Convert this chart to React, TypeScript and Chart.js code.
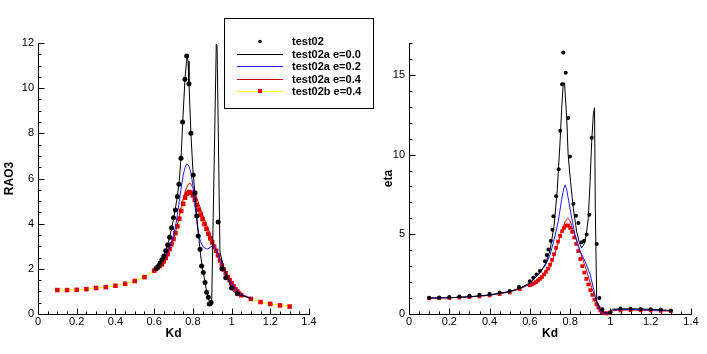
import React, { useEffect, useRef } from "react";
import { Chart, registerables } from "chart.js";

Chart.register(...registerables);

const FONT = "'Liberation Sans', Arial, Helvetica, sans-serif";

// ---------- tick labels ----------
const X_TICKS = [0, 0.2, 0.4, 0.6, 0.8, 1, 1.2, 1.4];
const L_Y_TICKS = [0, 2, 4, 6, 8, 10, 12];
const R_Y_TICKS = [0, 5, 10, 15];

const SERIES_NAMES = ["test02", "test02a e=0.0", "test02a e=0.2", "test02a e=0.4", "test02b e=0.4"];

// ---------- left chart (RAO3) ----------
const L_T02_X = [0.61, 0.62, 0.63, 0.64, 0.65, 0.66, 0.67, 0.68, 0.69, 0.7, 0.71, 0.72, 0.728, 0.739, 0.747, 0.759, 0.768, 0.78, 0.79, 0.802, 0.811, 0.82, 0.828, 0.837, 0.845, 0.854, 0.863, 0.871, 0.88, 0.885, 0.894, 0.931, 0.95, 0.97, 1.0, 1.03];
const L_T02_Y = [2.0, 2.1, 2.25, 2.4, 2.57, 2.8, 3.05, 3.4, 3.82, 4.26, 4.6, 5.2, 5.75, 6.9, 8.5, 10.4, 11.42, 10.2, 8.0, 6.15, 5.37, 4.34, 3.45, 2.87, 2.13, 1.84, 1.4, 0.96, 0.74, 0.44, 0.51, 4.07, 2.0, 1.6, 1.15, 0.9];

const L_E0_X = [0.6, 0.62, 0.64, 0.66, 0.68, 0.7, 0.72, 0.73, 0.74, 0.75, 0.76, 0.77, 0.775, 0.78, 0.79, 0.8, 0.81, 0.82, 0.83, 0.84, 0.85, 0.86, 0.87, 0.88, 0.89, 0.897, 0.921, 0.925, 0.94, 0.957, 0.983, 1.0, 1.026, 1.06, 1.1];
const L_E0_Y = [1.95, 2.1, 2.4, 2.8, 3.4, 4.2, 5.2, 5.9, 7.1, 8.9, 10.5, 11.4, 11.2, 10.2, 8.0, 6.4, 5.4, 4.35, 3.45, 2.6, 2.0, 1.55, 1.05, 0.7, 0.45, 0.37, 11.95, 11.9, 2.75, 2.13, 1.54, 1.1, 0.88, 0.8, 0.68];

const L_E2_X = [0.6, 0.62, 0.64, 0.66, 0.68, 0.7, 0.71, 0.72, 0.73, 0.74, 0.75, 0.76, 0.77, 0.78, 0.79, 0.8, 0.81, 0.82, 0.83, 0.84, 0.855, 0.875, 0.89, 0.905, 0.92, 0.94, 0.96, 0.98, 1.0, 1.02, 1.05, 1.1];
const L_E2_Y = [1.95, 2.1, 2.3, 2.55, 2.95, 3.5, 3.85, 4.4, 5.0, 5.6, 6.15, 6.5, 6.65, 6.55, 6.25, 5.7, 4.9, 4.1, 3.5, 3.2, 2.95, 2.87, 2.95, 3.05, 2.88, 2.45, 1.95, 1.6, 1.35, 1.1, 0.85, 0.68];

const L_E4_X = [0.6, 0.62, 0.64, 0.66, 0.68, 0.7, 0.72, 0.74, 0.76, 0.77, 0.78, 0.785, 0.79, 0.8, 0.81, 0.82, 0.83, 0.84, 0.86, 0.88, 0.9, 0.92, 0.94, 0.96, 0.98, 1.0, 1.02, 1.05, 1.1];
const L_E4_Y = [1.95, 2.1, 2.28, 2.52, 2.88, 3.3, 3.95, 4.75, 5.4, 5.65, 5.78, 5.8, 5.75, 5.6, 5.4, 5.15, 4.9, 4.65, 4.2, 3.75, 3.3, 2.8, 2.35, 1.95, 1.62, 1.35, 1.12, 0.88, 0.7];

const L_T02B_X = [0.1, 0.15, 0.2, 0.25, 0.3, 0.35, 0.4, 0.45, 0.5, 0.55,
  0.6, 0.61, 0.62, 0.63, 0.64, 0.65, 0.66, 0.67, 0.68, 0.69,
  0.7, 0.71, 0.72, 0.73, 0.74, 0.75, 0.76, 0.77, 0.78, 0.79,
  0.8, 0.81, 0.82, 0.83, 0.84, 0.85, 0.86, 0.87, 0.88, 0.89,
  0.9, 0.91, 0.92, 0.93, 0.94, 0.95, 0.96, 0.97, 0.98, 0.99,
  1.0, 1.01, 1.02, 1.03, 1.04, 1.05, 1.1, 1.15, 1.2, 1.25, 1.3];
const L_T02B_Y = [1.06, 1.06, 1.07, 1.1, 1.15, 1.19, 1.25, 1.34, 1.46, 1.63,
  1.92, 2.0, 2.06, 2.13, 2.2, 2.33, 2.48, 2.65, 2.87, 3.09,
  3.32, 3.58, 3.88, 4.22, 4.56, 4.88, 5.15, 5.33, 5.4, 5.38,
  5.25, 5.05, 4.83, 4.62, 4.4, 4.2, 3.98, 3.77, 3.55, 3.35,
  3.17, 2.98, 2.8, 2.6, 2.37, 2.15, 1.97, 1.8, 1.64, 1.5,
  1.36, 1.22, 1.1, 1.0, 0.9, 0.83, 0.67, 0.53, 0.45, 0.38, 0.33];

// ---------- right chart (eta) ----------
const R_T02_X = [0.1, 0.15, 0.2, 0.25, 0.3, 0.35, 0.4, 0.45, 0.5, 0.546, 0.6, 0.617, 0.633, 0.65, 0.675, 0.684, 0.692, 0.704, 0.712, 0.717, 0.73, 0.743, 0.751, 0.76, 0.766, 0.778, 0.79, 0.799, 0.816, 0.829, 0.841, 0.857, 0.87, 0.882, 0.895, 0.907, 0.932, 0.945, 0.96, 1.0, 1.05, 1.1, 1.15, 1.2, 1.25, 1.3];
const R_T02_Y = [1.02, 1.04, 1.07, 1.1, 1.15, 1.2, 1.27, 1.35, 1.44, 1.69, 2.06, 2.27, 2.48, 2.69, 3.31, 3.7, 4.04, 4.6, 5.29, 6.13, 7.38, 9.08, 11.5, 14.42, 16.4, 15.14, 12.3, 9.88, 6.92, 6.17, 5.71, 4.5, 4.6, 4.98, 6.23, 11.06, 4.39, 1.0, 0.3, 0.1, 0.35, 0.33, 0.32, 0.3, 0.28, 0.22];

const R_E0_X = [0.1, 0.2, 0.3, 0.4, 0.5, 0.55, 0.6, 0.65, 0.68, 0.7, 0.72, 0.736, 0.742, 0.75, 0.758, 0.766, 0.772, 0.783, 0.79, 0.802, 0.816, 0.832, 0.845, 0.857, 0.87, 0.88, 0.89, 0.899, 0.907, 0.915, 0.921, 0.925, 0.932, 0.95, 0.97, 0.99, 1.01, 1.05, 1.1, 1.2, 1.3];
const R_E0_Y = [1.0, 1.02, 1.08, 1.2, 1.42, 1.62, 1.95, 2.6, 3.2, 4.0, 5.5, 7.8, 9.1, 10.8, 12.9, 14.5, 14.5, 12.3, 10.0, 8.3, 6.6, 5.2, 4.5, 4.15, 4.4, 5.0, 6.0, 8.3, 10.8, 12.5, 12.94, 6.6, 0.8, 0.3, 0.1, 0.05, 0.3, 0.32, 0.33, 0.3, 0.22];

const R_E2_X = [0.1, 0.2, 0.3, 0.4, 0.5, 0.55, 0.6, 0.633, 0.675, 0.7, 0.717, 0.741, 0.758, 0.768, 0.775, 0.782, 0.79, 0.808, 0.824, 0.849, 0.874, 0.899, 0.915, 0.93, 0.95, 0.97, 0.99, 1.01, 1.05, 1.1, 1.2, 1.3];
const R_E2_Y = [1.0, 1.02, 1.08, 1.18, 1.4, 1.6, 1.9, 2.35, 3.0, 3.7, 4.5, 5.8, 7.2, 7.85, 8.1, 7.85, 7.3, 6.0, 5.0, 3.95, 3.3, 2.5, 1.65, 0.8, 0.2, 0.05, 0.05, 0.25, 0.28, 0.28, 0.25, 0.2];

const R_E4_X = [0.1, 0.2, 0.3, 0.4, 0.5, 0.55, 0.6, 0.65, 0.7, 0.733, 0.758, 0.775, 0.788, 0.8, 0.816, 0.849, 0.882, 0.907, 0.932, 0.95, 0.97, 0.99, 1.01, 1.05, 1.1, 1.2, 1.3];
const R_E4_Y = [1.0, 1.02, 1.07, 1.17, 1.38, 1.58, 1.85, 2.2, 2.9, 4.15, 5.2, 5.8, 6.0, 5.85, 5.2, 3.95, 2.7, 1.65, 0.8, 0.4, 0.1, 0.02, 0.2, 0.25, 0.25, 0.22, 0.18];

const R_T02B_X = [0.1, 0.15, 0.2, 0.25, 0.3, 0.35, 0.4, 0.45, 0.5, 0.55,
  0.6, 0.61, 0.62, 0.63, 0.64, 0.65, 0.66, 0.67, 0.68, 0.69,
  0.7, 0.71, 0.72, 0.73, 0.74, 0.75, 0.76, 0.77, 0.78, 0.79,
  0.8, 0.81, 0.82, 0.83, 0.84, 0.85, 0.86, 0.87, 0.88, 0.89,
  0.9, 0.91, 0.92, 0.93, 0.94, 0.95, 0.96, 0.97, 0.98, 0.99,
  1.0, 1.05, 1.1, 1.15, 1.2, 1.25, 1.3];
const R_T02B_Y = [0.98, 0.99, 1.0, 1.03, 1.06, 1.1, 1.16, 1.25, 1.35, 1.55,
  1.8, 1.85, 1.92, 2.0, 2.1, 2.2, 2.32, 2.48, 2.65, 2.85,
  3.1, 3.4, 3.75, 4.15, 4.55, 4.9, 5.2, 5.4, 5.55, 5.55,
  5.4, 5.15, 4.8, 4.4, 3.95, 3.45, 3.0, 2.6, 2.2, 1.85,
  1.5, 1.2, 0.9, 0.62, 0.4, 0.22, 0.12, 0.06, 0.03, 0.05,
  0.1, 0.22, 0.24, 0.23, 0.22, 0.2, 0.18];

const pts = (xs: number[], ys: number[]) => xs.map((x, i) => ({ x, y: ys[i] }));

// ---------- plugins ----------
const axesPlugin = {
  id: "tpAxes",
  beforeDatasetsDraw(chart: any, _args: any, opts: any) {
    const { ctx, chartArea: a, scales } = chart;
    const sx = scales.x;
    const sy = scales.y;
    const L = Math.round(a.left) + 0.5;
    const B = Math.round(a.bottom) + 0.5;
    ctx.save();
    ctx.strokeStyle = "#000";
    ctx.lineWidth = 1;
    ctx.beginPath();
    ctx.moveTo(L, Math.round(a.top));
    ctx.lineTo(L, B);
    ctx.lineTo(Math.round(a.right) + 1, B);
    const nx = Math.round((sx.max - sx.min) / opts.xMinor);
    for (let i = 0; i <= nx; i++) {
      const v = sx.min + i * opts.xMinor;
      const r = v / opts.xMajor;
      const major = Math.abs(r - Math.round(r)) < 1e-6;
      const px = Math.round(sx.getPixelForValue(v)) + 0.5;
      ctx.moveTo(px, B);
      ctx.lineTo(px, B - (major ? 6 : 3));
    }
    const ny = Math.round((sy.max - sy.min) / opts.yMinor);
    for (let i = 0; i <= ny; i++) {
      const v = sy.min + i * opts.yMinor;
      const r = v / opts.yMajor;
      const major = Math.abs(r - Math.round(r)) < 1e-6;
      const py = Math.round(sy.getPixelForValue(v)) + 0.5;
      ctx.moveTo(L, py);
      ctx.lineTo(L + (major ? 6 : 3), py);
    }
    ctx.stroke();
    ctx.restore();
  },
};

const legendPlugin = {
  id: "tpLegend",
  afterDraw(chart: any, _args: any, opts: any) {
    if (!opts || !opts.show) return;
    const { ctx } = chart;
    const { x, y, w, h, rowTop, rowStep, lineX0, lineX1, textX } = opts;
    ctx.save();
    ctx.fillStyle = "#fff";
    ctx.fillRect(x, y, w, h);
    ctx.strokeStyle = "#000";
    ctx.lineWidth = 1;
    ctx.strokeRect(x + 0.5, y + 0.5, w, h);
    ctx.font = `bold 11px ${FONT}`;
    ctx.textBaseline = "middle";
    ctx.textAlign = "left";
    chart.data.datasets.forEach((ds: any, i: number) => {
      const ry = Math.round(y + rowTop + i * rowStep) + 0.5;
      const mx = (lineX0 + lineX1) / 2;
      if (ds.showLine) {
        ctx.strokeStyle = ds.borderColor;
        ctx.lineWidth = 1;
        ctx.beginPath();
        ctx.moveTo(lineX0, ry);
        ctx.lineTo(lineX1, ry);
        ctx.stroke();
      }
      if (ds.pointRadius > 0) {
        ctx.fillStyle = ds.pointBackgroundColor;
        if (ds.pointStyle === "rect") {
          ctx.fillRect(mx - 2, ry - 2.5, 4, 4);
        } else {
          ctx.beginPath();
          ctx.arc(mx, ry, 1.8, 0, Math.PI * 2);
          ctx.fill();
        }
      }
      ctx.fillStyle = "#000";
      ctx.fillText(ds.label, textX, ry);
    });
    ctx.restore();
  },
};

type Side = {
  datasets: any[];
  yMax: number;
  yTicks: number[];
  yMinor: number;
  yMajor: number;
  yTitle: string;
  yWidth: number;
  yTitlePad: number;
  padRight: number;
  legend: any;
};

function makeConfig(s: Side): any {
  return {
    type: "scatter",
    data: { datasets: s.datasets },
    options: {
      responsive: false,
      animation: false,
      devicePixelRatio: 1,
      events: [],
      layout: { padding: { left: 0, top: 43, right: s.padRight, bottom: 0 } },
      plugins: {
        legend: { display: false },
        tooltip: { enabled: false },
        tpAxes: { xMinor: 0.05, xMajor: 0.2, yMinor: s.yMinor, yMajor: s.yMajor },
        tpLegend: s.legend,
      },
      scales: {
        x: {
          type: "linear",
          min: 0,
          max: 1.4,
          afterBuildTicks: (sc: any) => {
            sc.ticks = X_TICKS.map((v) => ({ value: v }));
          },
          afterFit: (sc: any) => {
            sc.height = 40;
          },
          grid: { display: false, drawTicks: false },
          border: { display: false },
          ticks: {
            font: { family: FONT, size: 11 },
            color: "#000",
            padding: 1,
            maxRotation: 0,
            autoSkip: false,
            callback: (v: any) => String(v),
          },
          title: {
            display: true,
            text: "Kd",
            color: "#000",
            font: { family: FONT, size: 12, weight: "bold" },
            padding: { top: 0, bottom: 13 },
          },
        },
        y: {
          type: "linear",
          min: 0,
          max: s.yMax,
          afterBuildTicks: (sc: any) => {
            sc.ticks = s.yTicks.map((v) => ({ value: v }));
          },
          afterFit: (sc: any) => {
            sc.width = s.yWidth;
          },
          grid: { display: false, drawTicks: false },
          border: { display: false },
          ticks: {
            font: { family: FONT, size: 11 },
            color: "#000",
            padding: 4,
            autoSkip: false,
            callback: (v: any) => String(v),
          },
          title: {
            display: true,
            text: s.yTitle,
            color: "#000",
            font: { family: FONT, size: 12, weight: "bold" },
            padding: { top: s.yTitlePad, bottom: 0 },
          },
        },
      },
    },
    plugins: [axesPlugin, legendPlugin],
  };
}

const dotDs = (label: string, data: any[], r: number) => ({
  label,
  data,
  showLine: false,
  pointStyle: "circle",
  pointRadius: r,
  pointBackgroundColor: "#000",
  pointBorderWidth: 0,
  borderColor: "#000",
  clip: false,
});
const lineDs = (label: string, data: any[], color: string) => ({
  label,
  data,
  showLine: true,
  borderColor: color,
  borderWidth: 1,
  pointRadius: 0,
  tension: 0,
  clip: false,
});
const markDs = (label: string, data: any[], line: string | null, r: number) => ({
  label,
  data,
  showLine: !!line,
  borderColor: line || "#e00000",
  borderWidth: 1,
  pointStyle: "rect",
  pointRadius: r,
  pointBackgroundColor: "#e00000",
  pointBorderWidth: 0,
  tension: 0,
  clip: false,
});

const LEFT: Side = {
  datasets: [
    dotDs(SERIES_NAMES[0], pts(L_T02_X, L_T02_Y), 2.5),
    lineDs(SERIES_NAMES[1], pts(L_E0_X, L_E0_Y), "#000000"),
    lineDs(SERIES_NAMES[2], pts(L_E2_X, L_E2_Y), "#1a1aff"),
    lineDs(SERIES_NAMES[3], pts(L_E4_X, L_E4_Y), "#c80000"),
    markDs(SERIES_NAMES[4], pts(L_T02B_X, L_T02B_Y), "#ffff00", 3.2),
  ],
  yMax: 12,
  yTicks: L_Y_TICKS,
  yMinor: 0.5,
  yMajor: 2,
  yTitle: "RAO3",
  yWidth: 38,
  yTitlePad: 2,
  padRight: 71,
  legend: { show: true, x: 224, y: 18, w: 149, h: 90, rowTop: 23, rowStep: 12.5, lineX0: 237, lineX1: 283, textX: 292 },
};

const RIGHT: Side = {
  datasets: [
    dotDs(SERIES_NAMES[0], pts(R_T02_X, R_T02_Y), 2),
    lineDs(SERIES_NAMES[1], pts(R_E0_X, R_E0_Y), "#000000"),
    lineDs(SERIES_NAMES[2], pts(R_E2_X, R_E2_Y), "#1a1aff"),
    lineDs(SERIES_NAMES[3], pts(R_E4_X, R_E4_Y), "#e00000"),
    markDs(SERIES_NAMES[4], pts(R_T02B_X, R_T02B_Y), null, 2.6),
  ],
  yMax: 17,
  yTicks: R_Y_TICKS,
  yMinor: 1,
  yMajor: 5,
  yTitle: "eta",
  yWidth: 29,
  yTitlePad: 1,
  padRight: 16,
  legend: { show: false },
};

function ChartCanvas({ side, left, width }: { side: Side; left: number; width: number }) {
  const ref = useRef<HTMLCanvasElement>(null);
  useEffect(() => {
    if (!ref.current) return;
    const chart = new Chart(ref.current, makeConfig(side));
    return () => chart.destroy();
  }, []);
  return (
    <canvas
      ref={ref}
      width={width}
      height={354}
      style={{ position: "absolute", left, top: 0, width, height: 354 }}
    />
  );
}

export default function App() {
  return (
    <div style={{ position: "fixed", left: 0, top: 0, width: 707, height: 354, background: "#fff", overflow: "hidden" }}>
      <ChartCanvas side={LEFT} left={0} width={380} />
      <ChartCanvas side={RIGHT} left={380} width={327} />
    </div>
  );
}
